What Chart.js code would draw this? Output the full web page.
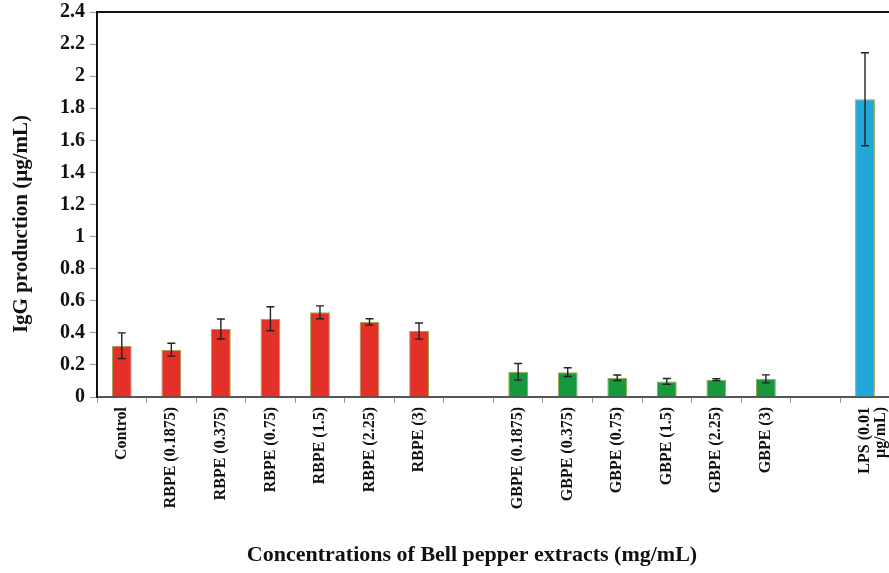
<!DOCTYPE html>
<html>
<head>
<meta charset="utf-8">
<script src="https://cdn.jsdelivr.net/npm/chart.js@4/dist/chart.umd.min.js"></script>
<style>
  html, body { margin: 0; padding: 0; background: #fff; overflow: hidden; }
  /* the original figure is cropped on the right, so the canvas runs past the window */
  #wrap { width: 901px; height: 573px; position: relative; }
</style>
</head>
<body>
<div id="wrap"><canvas id="chart"></canvas></div>
<script>
// categories (empty strings are the spacer slots between groups)
const categories = [
  "Control", "RBPE (0.1875)", "RBPE (0.375)", "RBPE (0.75)", "RBPE (1.5)", "RBPE (2.25)", "RBPE (3)",
  "",
  "GBPE (0.1875)", "GBPE (0.375)", "GBPE (0.75)", "GBPE (1.5)", "GBPE (2.25)", "GBPE (3)",
  "",
  ["LPS (0.01", "µg/mL)"]
]
const igg = [0.32, 0.295, 0.424, 0.488, 0.528, 0.468, 0.411, null, 0.157, 0.155, 0.12, 0.097, 0.108, 0.113, null, 1.856]
const iggError = [0.08, 0.04, 0.062, 0.075, 0.04, 0.02, 0.05, null, 0.052, 0.027, 0.017, 0.018, 0.006, 0.025, null, 0.29]
const groupColors = ["#e3312a", "#e3312a", "#e3312a", "#e3312a", "#e3312a", "#e3312a", "#e3312a", null,
  "#18983c", "#18983c", "#18983c", "#18983c", "#18983c", "#18983c", null, "#22a8d8"]
const yTicks = [0, 0.2, 0.4, 0.6, 0.8, 1, 1.2, 1.4, 1.6, 1.8, 2, 2.2, 2.4]
const xTitle = "Concentrations of Bell pepper extracts (mg/mL)"
const yTitle = "IgG production (µg/mL)"

const serif = "'Liberation Serif', 'Times New Roman', serif"

// error bars drawn from the scales
const errorBars = {
  id: "errorBars",
  afterDatasetsDraw(chart) {
    const ctx = chart.ctx
    const y = chart.scales.y
    const meta = chart.getDatasetMeta(0)
    ctx.save()
    ctx.strokeStyle = "#222"
    ctx.lineWidth = 1.4
    meta.data.forEach((bar, i) => {
      if (igg[i] == null || iggError[i] == null) return
      const x = bar.x
      const top = y.getPixelForValue(igg[i] + iggError[i])
      const bottom = y.getPixelForValue(igg[i] - iggError[i])
      ctx.beginPath()
      ctx.moveTo(x, top); ctx.lineTo(x, bottom)
      ctx.moveTo(x - 4, top); ctx.lineTo(x + 4, top)
      ctx.moveTo(x - 4, bottom); ctx.lineTo(x + 4, bottom)
      ctx.stroke()
    })
    ctx.restore()
  }
}

// top border line + axis titles (the originals sit a bit off-centre)
const frame = {
  id: "frame",
  afterDraw(chart) {
    const { ctx, chartArea } = chart
    ctx.save()
    ctx.strokeStyle = "#111"
    ctx.lineWidth = 2
    ctx.beginPath()
    ctx.moveTo(chartArea.left - 1, chartArea.top)
    ctx.lineTo(chart.width, chartArea.top)
    ctx.stroke()

    ctx.fillStyle = "#111"
    ctx.textAlign = "center"
    ctx.textBaseline = "middle"
    ctx.font = "bold 22px " + serif
    ctx.fillText(xTitle, 472, 555)

    ctx.translate(22, 224)
    ctx.rotate(-Math.PI / 2)
    ctx.font = "bold 21px " + serif
    ctx.fillText(yTitle, 0, 0)
    ctx.restore()
  }
}

new Chart(document.getElementById("chart"), {
  type: "bar",
  data: {
    labels: categories,
    datasets: [{
      data: igg,
      backgroundColor: groupColors,
      borderColor: "#9aa54a",
      borderWidth: 1,
      categoryPercentage: 1,
      barPercentage: 0.4,
    }]
  },
  options: {
    responsive: true,
    maintainAspectRatio: false,
    animation: false,
    layout: { padding: { top: 12, right: 0, left: 0, bottom: 0 } },
    plugins: {
      legend: { display: false },
      tooltip: { enabled: false },
    },
    scales: {
      x: {
        offset: true,
        border: { color: "#555", width: 2 },
        grid: { drawOnChartArea: false, color: "#999", tickLength: 6, offset: true },
        ticks: {
          minRotation: 90,
          maxRotation: 90,
          autoSkip: false,
          padding: 4,
          color: "#111",
          // the two-line LPS label is packed a little tighter
          font: (c) => ({ family: serif, weight: "bold", size: 16, lineHeight: c.index === 15 ? 1.0 : 1.2 }),
        },
        afterFit: (s) => { s.height = 176 },
      },
      y: {
        min: 0,
        max: 2.4,
        border: { color: "#111", width: 2 },
        grid: { drawOnChartArea: false, color: "#999", tickLength: 7 },
        afterBuildTicks: (s) => { s.ticks = yTicks.map((v) => ({ value: v })) },
        ticks: {
          color: "#111",
          padding: 5,
          font: { family: serif, weight: "bold", size: 20 },
          callback: (v) => String(Math.round(v * 10) / 10),
        },
        afterFit: (s) => {
          s.width = 97
          s.paddingTop = 0
          s.paddingBottom = 0
        },
      },
    },
  },
  plugins: [errorBars, frame],
})
</script>
</body>
</html>
